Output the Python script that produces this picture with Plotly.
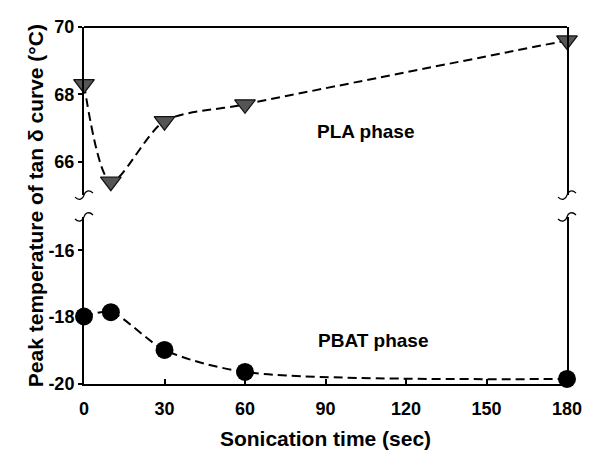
import plotly.graph_objects as go

time_s = [0, 10, 30, 60, 180]
pla_peak = [68.3, 65.4, 67.2, 67.7, 69.6]
pbat_peak = [-17.98, -17.85, -18.98, -19.64, -19.85]
x_ticks = [0, 30, 60, 90, 120, 150, 180]
top_ticks = [66, 68, 70]
bottom_ticks = [-20, -18, -16]

FONT = "Liberation Sans, Arial, sans-serif"
fig = go.Figure()
fig.add_trace(go.Scatter(
    x=time_s, y=pla_peak, xaxis="x", yaxis="y", mode="lines+markers",
    line=dict(color="black", width=2, dash="9px,5px", shape="spline", smoothing=0.8),
    marker=dict(symbol="triangle-down", size=18, color="#555555",
                line=dict(color="#111111", width=1.2)),
    cliponaxis=False, showlegend=False))
fig.add_trace(go.Scatter(
    x=time_s, y=pbat_peak, xaxis="x", yaxis="y2", mode="lines+markers",
    line=dict(color="black", width=2, dash="9px,5px", shape="spline", smoothing=0.8),
    marker=dict(symbol="circle", size=18, color="black"),
    cliponaxis=False, showlegend=False))

top_lo, bot_hi = 0.529, 0.468
tf = dict(size=18, family=FONT, color="black")
fig.update_layout(
    width=610, height=453,
    margin=dict(l=84, r=43, t=27, b=69),
    paper_bgcolor="white", plot_bgcolor="white",
    font=dict(family=FONT, size=16, color="black"),
    xaxis=dict(range=[0, 180], anchor="y2", tickvals=x_ticks,
               ticktext=["<b>%d</b>" % v for v in x_ticks],
               ticks="inside", ticklen=5, tickwidth=1.5, tickcolor="black",
               showline=True, linecolor="black", linewidth=2,
               showgrid=False, zeroline=False, ticklabelstandoff=7,
               tickfont=tf, automargin=False,
               title=dict(text="<b>Sonication time (sec)</b>", font=dict(size=21),
                          standoff=14)),
    yaxis=dict(domain=[top_lo, 1], range=[65, 70], anchor="x",
               tickvals=top_ticks, ticktext=["<b>%d</b>" % v for v in top_ticks],
               ticks="outside", ticklen=4, tickwidth=1.5, tickcolor="black",
               showline=True, mirror=True, linecolor="black", linewidth=2,
               showgrid=False, zeroline=False, tickfont=tf, automargin=False),
    yaxis2=dict(domain=[0, bot_hi], range=[-20, -15], anchor="x",
                tickvals=bottom_ticks, ticktext=["<b>%d</b>" % v for v in bottom_ticks],
                ticks="outside", ticklen=4, tickwidth=1.5, tickcolor="black",
                showline=True, mirror=True, linecolor="black", linewidth=2,
                showgrid=False, zeroline=False, tickfont=tf, automargin=False),
)

# top border of upper panel
fig.add_shape(type="line", xref="paper", yref="paper", x0=0, x1=1, y0=1, y1=1,
              line=dict(color="black", width=2))

# break marks
for xa in (0, 1):
    for ya in (top_lo, bot_hi):
        fig.add_shape(type="path", xref="paper", yref="paper",
                      xsizemode="pixel", ysizemode="pixel",
                      xanchor=xa, yanchor=ya,
                      path="M -9,-2 C -5,-6 -1,-4 0,0 C 1,4 5,6 9,2",
                      line=dict(color="black", width=1.3))

fig.add_annotation(x=105, y=66.9, xref="x", yref="y", text="<b>PLA phase</b>",
                   showarrow=False, font=dict(size=19))
fig.add_annotation(x=108, y=-18.7, xref="x", yref="y2", text="<b>PBAT phase</b>",
                   showarrow=False, font=dict(size=19))
fig.add_annotation(x=-0.128, y=0.5, xref="paper", yref="paper",
                   text="<b>Peak temperature of tan δ curve (°C)</b>",
                   textangle=-90, showarrow=False, font=dict(size=21))

fig.write_html("out.html")
